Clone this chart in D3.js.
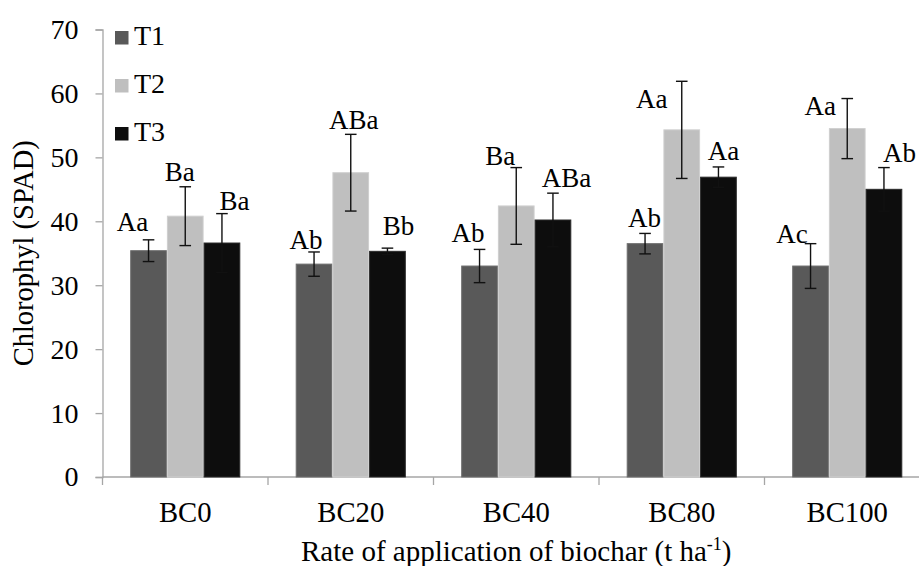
<!DOCTYPE html>
<html>
<head>
<meta charset="utf-8">
<script src="https://cdn.jsdelivr.net/npm/d3@7"></script>
<style>
  html, body { margin: 0; padding: 0; background: #fff; }
  svg { display: block; }
  text { font-family: "Liberation Serif", "Times New Roman", serif; fill: #000; }
</style>
</head>
<body>
<svg id="chart" width="919" height="566"></svg>
<script>
// ---- data ----
const categories = ["BC0", "BC20", "BC40", "BC80", "BC100"];
const seriesNames = ["T1", "T2", "T3"];
const t1Values = [35.4, 33.3, 33.0, 36.5, 33.0];
const t2Values = [40.8, 47.6, 42.4, 54.3, 54.5];
const t3Values = [36.6, 35.3, 40.2, 46.9, 45.0];
const t1Errors = [1.7, 1.9, 2.6, 1.6, 3.5];
const t2Errors = [4.6, 6.0, 6.0, 7.6, 4.7];
const t3Errors = [4.6, 0.5, 4.2, 1.6, 3.4];
const t1Letters = ["Aa", "Ab", "Ab", "Ab", "Ac"];
const t2Letters = ["Ba", "ABa", "Ba", "Aa", "Aa"];
const t3Letters = ["Ba", "Bb", "ABa", "Aa", "Ab"];
const yTicks = [0, 10, 20, 30, 40, 50, 60, 70];

// ---- layout (label nudges in px relative to bar centre / error-bar top) ----
const labelNudge = [
  [[-16, -9], [-5.5, -6], [12.5, -3.5]],
  [[-8, -2.5], [3, -5.7], [11, -13]],
  [[-11.5, -7.3], [-16, -2.3], [13.6, -6.6]],
  [[-0.6, -6.4], [-30, 27], [5, -7.3]],
  [[-18.5, -0.4], [-27, 16.7], [15.5, -6]]
];
const colors = ["#595959", "#bfbfbf", "#0d0d0d"];
const strokes = ["#6e6e6e", "#cfcfcf", "#2a2a2a"];

const values = [t1Values, t2Values, t3Values];
const errors = [t1Errors, t2Errors, t3Errors];
const letters = [t1Letters, t2Letters, t3Letters];

const svg = d3.select("#chart");
const mLeft = 102.5, mRight = 930, mTop = 29.5, mBottom = 477;

const x0 = d3.scaleBand().domain(categories).range([mLeft, mRight]).paddingInner(0).paddingOuter(0);
const x1 = d3.scaleBand().domain(seriesNames).range([27.7, x0.bandwidth() - 27.7]).padding(0);
const y = d3.scaleLinear().domain([0, 70]).range([mBottom, mTop]);

const axisColor = "#a6a6a6";

// y axis
const yAxis = svg.append("g").attr("transform", `translate(${mLeft},0)`)
  .call(d3.axisLeft(y).tickValues(yTicks).tickSize(7).tickPadding(17).tickFormat(d3.format("d")));
yAxis.select(".domain").attr("stroke", axisColor).attr("stroke-width", 1.3);
yAxis.selectAll(".tick line").attr("stroke", axisColor).attr("stroke-width", 1.3);
yAxis.selectAll(".tick text").style("font-size", "28px").attr("fill", "#000")
  .style("font-family", "'Liberation Serif', serif");

// x axis
const xAxisG = svg.append("g").attr("transform", `translate(0,${mBottom})`);
xAxisG.append("line").attr("x1", mLeft).attr("x2", mRight).attr("y1", 0).attr("y2", 0)
  .attr("stroke", axisColor).attr("stroke-width", 1.3);
const bounds = categories.map(c => x0(c)).concat([mRight]);
xAxisG.selectAll("line.xt").data(bounds).enter().append("line").attr("class", "xt")
  .attr("x1", d => d).attr("x2", d => d).attr("y1", 0).attr("y2", 8)
  .attr("stroke", axisColor).attr("stroke-width", 1.3);
xAxisG.selectAll("text.cat").data(categories).enter().append("text").attr("class", "cat")
  .attr("x", d => x0(d) + x0.bandwidth() / 2).attr("y", 44.5)
  .attr("text-anchor", "middle").style("font-size", "28.7px").text(d => d);

// bars
const groups = svg.selectAll("g.grp").data(categories).enter().append("g").attr("class", "grp")
  .attr("transform", d => `translate(${x0(d)},0)`);

seriesNames.forEach((s, si) => {
  groups.append("rect")
    .attr("x", x1(s) + 0.5)
    .attr("width", x1.bandwidth() - 1)
    .attr("y", (d, ci) => y(values[si][ci]))
    .attr("height", (d, ci) => mBottom - y(values[si][ci]))
    .attr("fill", colors[si])
    .attr("stroke", strokes[si]).attr("stroke-width", 1);
});

// error bars
seriesNames.forEach((s, si) => {
  const cx = x1(s) + x1.bandwidth() / 2;
  groups.each(function(d, ci) {
    const g = d3.select(this);
    const v = values[si][ci], e = errors[si][ci];
    const yt = y(v + e), yb = y(v - e);
    g.append("line").attr("x1", cx).attr("x2", cx).attr("y1", yt).attr("y2", yb)
      .attr("stroke", "#111").attr("stroke-width", 1.4);
    [yt, yb].forEach(yy => g.append("line").attr("x1", cx - 5.8).attr("x2", cx + 5.8)
      .attr("y1", yy).attr("y2", yy).attr("stroke", "#111").attr("stroke-width", 1.4));
    const nd = labelNudge[ci][si];
    g.append("text").attr("x", cx + nd[0]).attr("y", yt + nd[1])
      .attr("text-anchor", "middle").style("font-size", "27px").text(letters[si][ci]);
  });
});

// legend
const legend = svg.append("g");
seriesNames.forEach((s, i) => {
  const ly = 31 + i * 48;
  legend.append("rect").attr("x", 115).attr("y", ly).attr("width", 13.5).attr("height", 13.5)
    .attr("fill", colors[i]);
  legend.append("text").attr("x", 134).attr("y", ly + 14).style("font-size", "28px").text(s);
});

// axis titles
svg.append("text")
  .attr("transform", `translate(33,${(mTop + mBottom) / 2}) rotate(-90)`)
  .attr("text-anchor", "middle").style("font-size", "28.5px").text("Chlorophyl (SPAD)");

const xt = svg.append("text").attr("x", (mLeft + mRight) / 2).attr("y", 561)
  .attr("text-anchor", "middle").style("font-size", "29px");
xt.append("tspan").text("Rate of application of biochar (t ha");
xt.append("tspan").attr("dy", -11).style("font-size", "18px").text("-1");
xt.append("tspan").attr("dy", 11).text(")");
</script>
</body>
</html>
